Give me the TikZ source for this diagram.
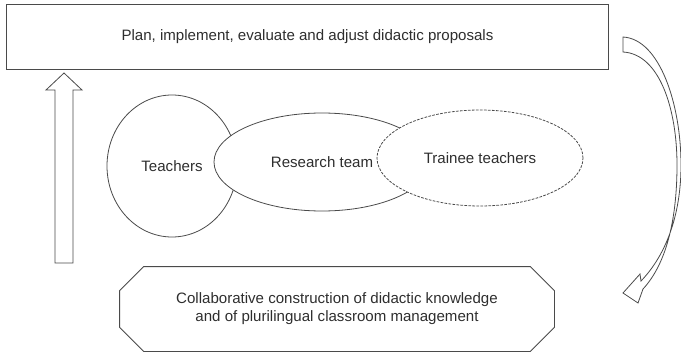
\documentclass[tikz,border=0pt]{standalone}
\usepackage{fontspec}
\setmainfont{Liberation Sans}
\usetikzlibrary{calc,shapes.geometric}
\definecolor{inkgray}{HTML}{4A4A4A}
\definecolor{textgray}{HTML}{2E2E2E}
\tikzset{
    outline/.style={draw=inkgray, line width=0.6pt, fill=white, line join=miter},
    box/.style={outline, align=center, text=textgray, inner sep=0pt,
        font=\fontsize{11.3pt}{13.5pt}\selectfont},
    blob/.style={box, ellipse}
}

\begin{document}
\begin{tikzpicture}[x=0.75pt,y=-0.75pt]
      \useasboundingbox (0,0) rectangle (681,353);
      % boxes
      \node[box, minimum width=452pt, minimum height=48.75pt] (plan) at (307.5,36.5)
            {Plan, implement, evaluate and adjust didactic proposals};
      \node[box, draw=none, fill=none, minimum width=325.5pt,
            minimum height=63pt] (collab) at (337,309)
            {Collaborative construction of didactic knowledge\\and of plurilingual classroom management};
      \draw[outline, fill=none] ($(collab.north west)+(24,0)$) -- ($(collab.north east)+(-24,0)$)
            -- ($(collab.north east)+(0,24)$) -- ($(collab.south east)+(0,-24)$)
            -- ($(collab.south east)+(-24,0)$) -- ($(collab.south west)+(24,0)$)
            -- ($(collab.south west)+(0,-24)$) -- ($(collab.north west)+(0,24)$) -- cycle;
      % actors
      \node[blob, minimum width=97.5pt, minimum height=106.5pt] (teach) at (172,166) {Teachers};
      \node[blob, minimum width=162pt, minimum height=73.5pt] (team) at (322,162) {Research team};
      \node[blob, dash pattern=on 2pt off 1pt, minimum width=154.5pt,
            minimum height=72pt] (trainee) at (480,158) {Trainee teachers};
      % block arrows
      \coordinate (upfoot) at (64,263);
      \coordinate (uptip) at (64,73);
      \draw[outline] ($(upfoot)+(-9,0)$) -- (55,90) -- (46,90) -- (uptip) -- (82,90)
            -- (73,90) -- ($(upfoot)+(9,0)$) -- cycle;
      \coordinate (bendtail) at (623,37);
      \coordinate (bendtip) at (623,293);
      \draw[outline] (bendtail) .. controls (660,39) and (681,105) .. (681,165)
            .. controls (681,215) and (666,255) .. (641,281) -- (640,274) -- (bendtip)
            -- (638,303) -- (643,289) .. controls (668,262) and (677,215) .. (677,165)
            .. controls (677,110) and (660,54) .. (623,52) -- cycle;
\end{tikzpicture}
\end{document}
